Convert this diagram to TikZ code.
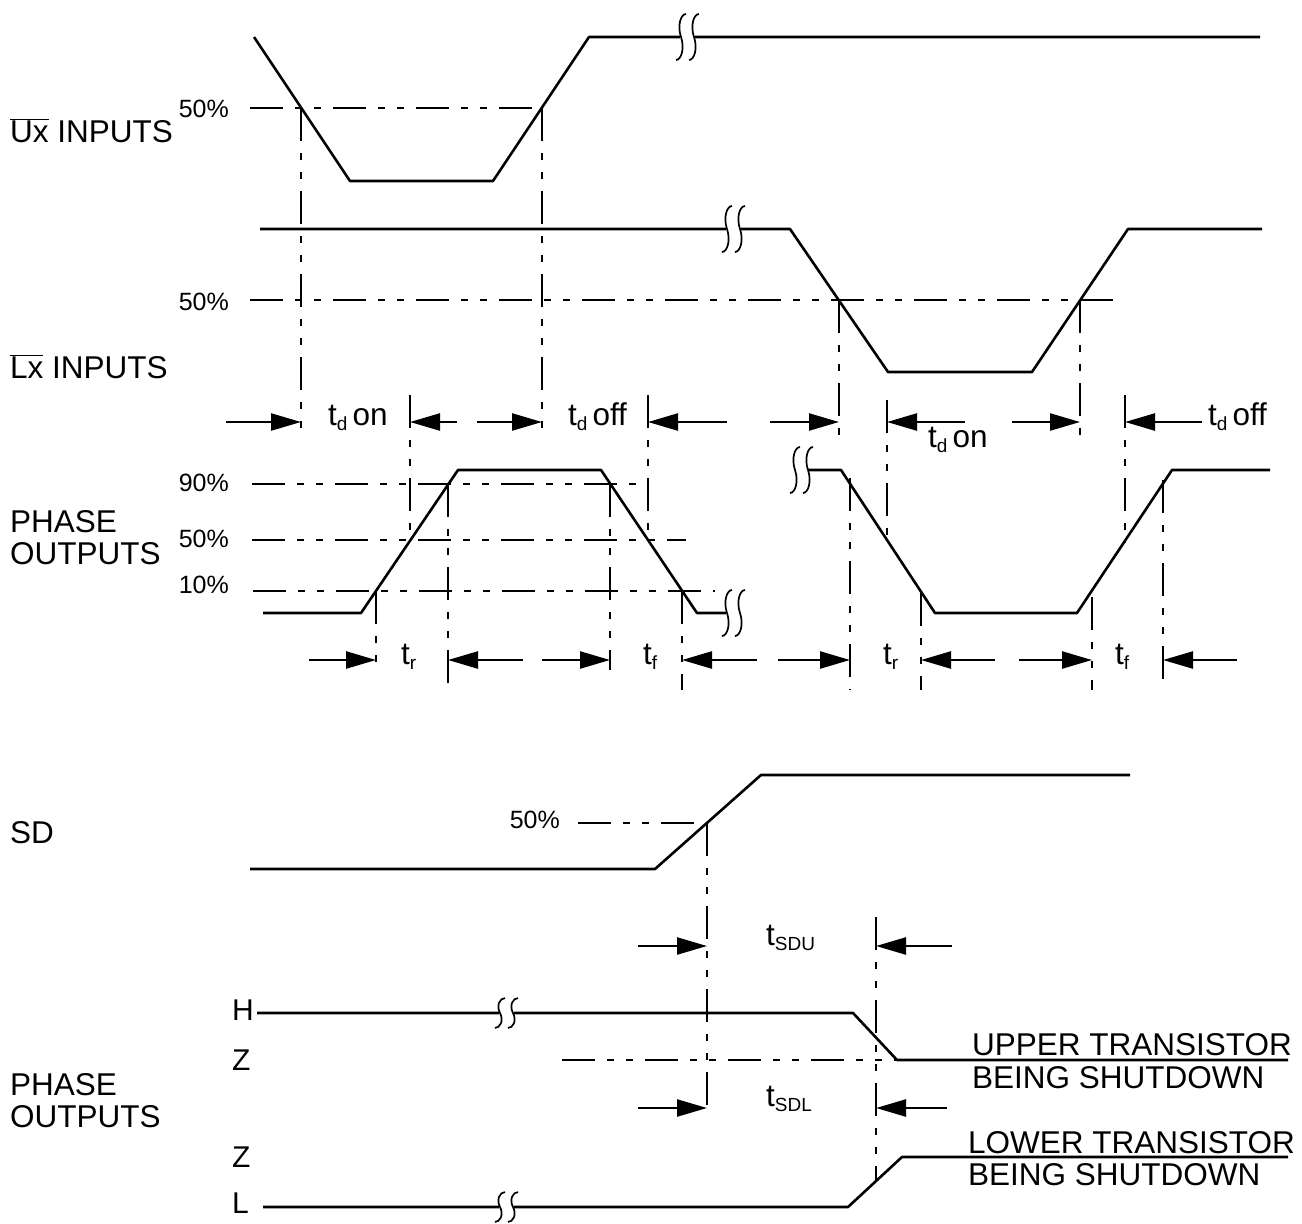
\documentclass[tikz,border=0pt]{standalone}
\usepackage{fontspec}
\setmainfont{Liberation Sans}
\usetikzlibrary{arrows.meta,calc}
\newcommand\tlow[1]{\raisebox{-5pt}{\fontsize{19}{20}\selectfont #1}}
\begin{document}
\begin{tikzpicture}[x=1pt,y=-1pt,
  wave/.style={line width=2.6pt,line join=round},
  ddash/.style={line width=2.4pt,dash pattern=on 33pt off 12pt on 7pt off 12pt on 7pt off 12pt},
  arr/.style={line width=2.4pt,-{Triangle[length=30pt,width=17pt]}},
  lbl/.style={inner sep=0pt,font=\fontsize{31.5}{32}\selectfont,align=left},
  lbl2/.style={inner sep=0pt,font=\fontsize{31.5}{33}\selectfont,align=left},
  lvl/.style={inner sep=0pt,font=\fontsize{30}{32}\selectfont},
  pct/.style={inner sep=0pt,font=\fontsize{25}{30}\selectfont},
  brk/.pic={
    \fill[white] (-1,-3) rectangle (14,3);
    \draw[line width=1.7pt] (5,-23) .. controls (0,-23) and (-4,-12) .. (0,0) .. controls (4,12) and (0,23) .. (-5,23);
    \draw[line width=1.7pt] (18,-23) .. controls (13,-23) and (9,-12) .. (13,0) .. controls (17,12) and (13,23) .. (8,23);
  }]
\useasboundingbox[fill=white] (0,0) rectangle (1302,1224);

% ---------- Ux inputs ----------
\coordinate (u0) at (254,37);
\coordinate (u1) at (350,181);
\coordinate (u2) at (493,181);
\coordinate (u3) at (589,37);
\coordinate (u4) at (1260,37);
\coordinate (ubk) at (681,37);
\draw[wave] (u0) -- (u1) -- (u2) -- (u3) -- (u4);
\pic at (ubk) {brk};
\coordinate (uh0) at (250,108);
\coordinate (uc1) at (301,108);
\coordinate (uc2) at (542,108);
\draw[ddash] (uh0) -- (uc2);
\coordinate (uv1) at (301,440);
\coordinate (uv2) at (542,440);
\draw[ddash] (uc1) -- (uv1);
\draw[ddash] (uc2) -- (uv2);

% ---------- Lx inputs ----------
\coordinate (l0) at (260,229);
\coordinate (lbk) at (727,229);
\coordinate (l1) at (790,229);
\coordinate (l2) at (888,372);
\coordinate (l3) at (1032,372);
\coordinate (l4) at (1128,229);
\coordinate (l5) at (1262,229);
\draw[wave] (l0) -- (l1) -- (l2) -- (l3) -- (l4) -- (l5);
\pic at (lbk) {brk};
\coordinate (lh0) at (250,300);
\coordinate (lh1) at (1118,300);
\draw[ddash] (lh0) -- (lh1);
\coordinate (lc1) at (839,300);
\coordinate (lc2) at (1080,300);
\coordinate (lv1) at (839,443);
\coordinate (lv2) at (1080,445);
\draw[ddash] (lc1) -- (lv1);
\draw[ddash] (lc2) -- (lv2);

% ---------- Phase outputs (upper) ----------
\coordinate (p0) at (263,613);
\coordinate (p1) at (361,613);
\coordinate (p2) at (458,470);
\coordinate (p3) at (601,470);
\coordinate (p4) at (697,613);
\coordinate (p5) at (727,613);
\draw[wave] (p0) -- (p1) -- (p2) -- (p3) -- (p4) -- (p5);
\pic at (p5) {brk};
\coordinate (qbk) at (795,470);
\coordinate (q0) at (808,470);
\coordinate (q1) at (841,470);
\coordinate (q2) at (935,613);
\coordinate (q3) at (1077,613);
\coordinate (q4) at (1172,470);
\coordinate (q5) at (1270,470);
\pic at (qbk) {brk};
\draw[wave] (q0) -- (q1) -- (q2) -- (q3) -- (q4) -- (q5);

% level lines
\coordinate (n0) at (252,484); \coordinate (n1) at (648,484);
\coordinate (m0) at (252,540); \coordinate (m1) at (686,540);
\coordinate (k0) at (253,591); \coordinate (k1) at (715,591);
\draw[ddash] (n0) -- (n1);
\draw[ddash] (m0) -- (m1);
\draw[ddash] (k0) -- (k1);

% vertical markers
\coordinate (a1t) at (410,395);  \coordinate (a1b) at (410,540);
\coordinate (a2t) at (648,395);  \coordinate (a2b) at (648,540);
\coordinate (a3t) at (376,591);  \coordinate (a3b) at (376,670);
\coordinate (a4t) at (448,484);  \coordinate (a4b) at (448,690);
\coordinate (a5t) at (610,484);  \coordinate (a5b) at (610,670);
\coordinate (a6t) at (682,591);  \coordinate (a6b) at (682,690);
\coordinate (b1t) at (887,400);  \coordinate (b1b) at (887,547);
\coordinate (b2t) at (1125,395); \coordinate (b2b) at (1125,543);
\coordinate (b3t) at (850,478);  \coordinate (b3b) at (850,690);
\coordinate (b4t) at (921,593);  \coordinate (b4b) at (921,690);
\coordinate (b5t) at (1092,597); \coordinate (b5b) at (1092,690);
\coordinate (b6t) at (1163,480); \coordinate (b6b) at (1163,690);
\foreach \v in {a1,a2,a3,a4,a5,a6,b1,b2,b3,b4,b5,b6}
  \draw[ddash] (\v t) -- (\v b);

% t_d arrows (y = 422)
\coordinate (d1a) at (226,422);  \coordinate (d1b) at (301,422);
\coordinate (d2a) at (457,422);  \coordinate (d2b) at (410,422);
\coordinate (d3a) at (477,422);  \coordinate (d3b) at (542,422);
\coordinate (d4a) at (727,422);  \coordinate (d4b) at (648,422);
\coordinate (d5a) at (770,422);  \coordinate (d5b) at (839,422);
\coordinate (d6a) at (965,422);  \coordinate (d6b) at (887,422);
\coordinate (d7a) at (1012,422); \coordinate (d7b) at (1080,422);
\coordinate (d8a) at (1202,422); \coordinate (d8b) at (1125,422);
\foreach \v in {d1,d2,d3,d4,d5,d6,d7,d8}
  \draw[arr] (\v a) -- (\v b);

% t_r / t_f arrows (y = 660)
\coordinate (r1a) at (309,660);  \coordinate (r1b) at (376,660);
\coordinate (r2a) at (523,660);  \coordinate (r2b) at (448,660);
\coordinate (r3a) at (542,660);  \coordinate (r3b) at (610,660);
\coordinate (r4a) at (757,660);  \coordinate (r4b) at (682,660);
\coordinate (r5a) at (778,660);  \coordinate (r5b) at (850,660);
\coordinate (r6a) at (995,660);  \coordinate (r6b) at (921,660);
\coordinate (r7a) at (1019,660); \coordinate (r7b) at (1092,660);
\coordinate (r8a) at (1237,660); \coordinate (r8b) at (1163,660);
\foreach \v in {r1,r2,r3,r4,r5,r6,r7,r8}
  \draw[arr] (\v a) -- (\v b);

% ---------- SD ----------
\coordinate (s0) at (250,869);
\coordinate (s1) at (655,869);
\coordinate (s2) at (761,775);
\coordinate (s3) at (1130,775);
\draw[wave] (s0) -- (s1) -- (s2) -- (s3);
\coordinate (sh0) at (578,823);
\coordinate (sc) at (707,823);
\draw[ddash] (sh0) -- (sc);
\coordinate (sv1) at (707,1112);
\coordinate (sv2t) at (876,917);
\coordinate (sv2b) at (876,1181);
\draw[ddash] (sc) -- (sv1);
\draw[ddash] (sv2t) -- (sv2b);
\coordinate (e1a) at (638,946);  \coordinate (e1b) at (707,946);
\coordinate (e2a) at (952,946);  \coordinate (e2b) at (876,946);
\coordinate (e3a) at (638,1108); \coordinate (e3b) at (707,1108);
\coordinate (e4a) at (947,1108); \coordinate (e4b) at (876,1108);
\foreach \v in {e1,e2,e3,e4}
  \draw[arr] (\v a) -- (\v b);

% ---------- Phase outputs (lower) ----------
\coordinate (zh0) at (562,1060);
\coordinate (zh1) at (897,1060);
\draw[ddash] (zh0) -- (zh1);
\coordinate (h0) at (257,1013);
\coordinate (hbk) at (500,1013);
\coordinate (h1) at (853,1013);
\coordinate (h2) at (897,1060);
\coordinate (h3) at (1288,1060);
\draw[wave] (h0) -- (h1) -- (h2) -- (h3);
\pic[yscale=0.65] at (hbk) {brk};
\coordinate (g0) at (263,1207);
\coordinate (gbk) at (500,1207);
\coordinate (g1) at (848,1207);
\coordinate (g2) at (902,1157);
\coordinate (g3) at (1288,1157);
\draw[wave] (g0) -- (g1) -- (g2) -- (g3);
\pic[yscale=0.65] at (gbk) {brk};

% ---------- Labels ----------
\node[lbl,anchor=base west] (tux) at (10,142) {$\overline{\mbox{Ux}}$ INPUTS};
\node[pct,anchor=base east] (tu50) at (229,117) {50\%};
\node[pct,anchor=base east] (tl50) at (229,310) {50\%};
\node[lbl,anchor=base west] (tlx) at (10,378) {$\overline{\mbox{Lx}}$ INPUTS};
\node[pct,anchor=base east] (t90) at (229,491) {90\%};
\node[pct,anchor=base east] (t50) at (229,547) {50\%};
\node[pct,anchor=base east] (t10) at (229,593) {10\%};
\node[lbl,anchor=base west] (tph1) at (10,564) {PHASE\\OUTPUTS};

\node[lbl,anchor=base west] (tdon1) at (328,425) {t\tlow{d}\hspace{5pt}on};
\node[lbl,anchor=base west] (tdoff1) at (568,425) {t\tlow{d}\hspace{5pt}off};
\node[lbl,anchor=base west] (tdon2) at (928,447) {t\tlow{d}\hspace{5pt}on};
\node[lbl,anchor=base west] (tdoff2) at (1208,425) {t\tlow{d}\hspace{5pt}off};

\node[lbl,anchor=base west] (tr1) at (401,664) {t\tlow{r}};
\node[lbl,anchor=base west] (tf1) at (643,664) {t\tlow{f}};
\node[lbl,anchor=base west] (tr2) at (883,664) {t\tlow{r}};
\node[lbl,anchor=base west] (tf2) at (1115,664) {t\tlow{f}};

\node[lbl,anchor=base west] (tsd) at (10,843) {SD};
\node[pct,anchor=base east] (ts50) at (560,828) {50\%};
\node[lbl,anchor=base west] (tsdu) at (766,945) {t\tlow{SDU}};
\node[lbl,anchor=base west] (tsdl) at (766,1106) {t\tlow{SDL}};

\node[lvl,anchor=base west] (tH) at (232,1020) {H};
\node[lvl,anchor=base west] (tZ1) at (232,1070) {Z};
\node[lvl,anchor=base west] (tZ2) at (232,1167) {Z};
\node[lvl,anchor=base west] (tL) at (232,1213) {L};
\node[lbl,anchor=base west] (tph2) at (10,1127) {PHASE\\OUTPUTS};
\node[lbl2,anchor=base west] (tup) at (972,1088) {UPPER TRANSISTOR\\BEING SHUTDOWN};
\node[lbl,anchor=base west] (tlo) at (968,1185) {LOWER TRANSISTOR\\BEING SHUTDOWN};
\end{tikzpicture}
\end{document}
